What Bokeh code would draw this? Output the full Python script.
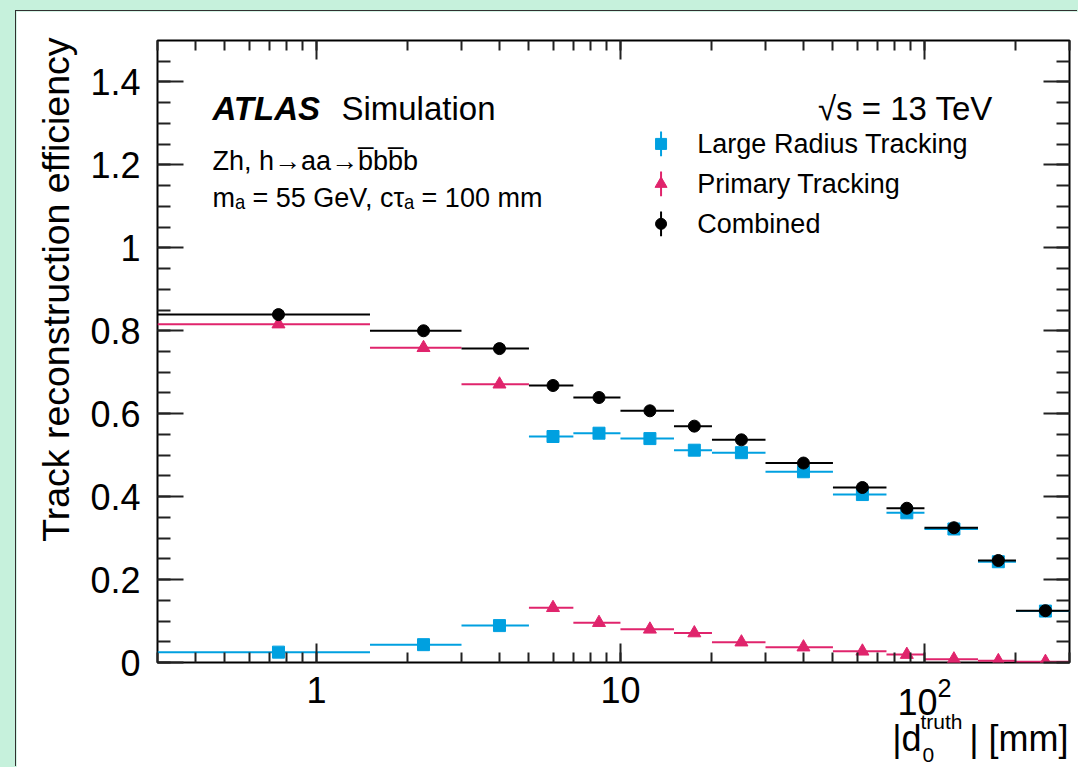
import numpy as np
from bokeh.plotting import figure
from bokeh.models import (Range1d, LogAxis, LinearAxis, LogTicker, SingleIntervalTicker,
                          LogTickFormatter, NumeralTickFormatter, Label, GridBox)
from bokeh.layouts import column
from bokeh.embed import file_html
from bokeh.resources import INLINE

# ---------------- data ----------------
bin_edges = [0, 1.5, 3, 5, 7, 10, 15, 20, 30, 50, 75, 100, 150, 200, 300]
large_radius = [0.025, 0.043, 0.089, 0.545, 0.553, 0.540, 0.512, 0.506, 0.460, 0.405, 0.361, 0.322, 0.243, 0.124]
primary = [0.816, 0.759, 0.671, 0.132, 0.096, 0.080, 0.071, 0.049, 0.037, 0.027, 0.019, 0.008, 0.004, 0.002]
combined = [0.839, 0.800, 0.757, 0.668, 0.639, 0.607, 0.570, 0.537, 0.481, 0.422, 0.372, 0.325, 0.246, 0.125]
series_names = ["Large Radius Tracking", "Primary Tracking", "Combined"]

# ---------------- style / layout constants ----------------
X_MIN, X_MAX = 0.3, 300
Y_MIN, Y_MAX = 0.0, 1.5
FONT = "Liberation Sans"
BLUE = "#00a0e0"
PINK = "#e0246c"
BLACK = "#000000"
W, H = 1062, 756

lo = np.array(bin_edges[:-1], dtype=float)
hi = np.array(bin_edges[1:], dtype=float)
centers = (lo + hi) / 2
lo_draw = np.maximum(lo, X_MIN)

p = figure(width=W, height=H, x_axis_type="log",
           x_range=Range1d(X_MIN, X_MAX), y_range=Range1d(Y_MIN, Y_MAX),
           output_backend="svg", toolbar_location=None,
           min_border_left=141, min_border_right=9, min_border_top=29, min_border_bottom=105)
p.styles = {"box-shadow": "-1px -1px 0 0 #303030"}
p.grid.visible = False
p.outline_line_color = "black"
p.outline_line_width = 2
p.background_fill_color = "white"
p.border_fill_color = "white"

bottom_ax = p.below[0]
left_ax = p.left[0]
top_ax = LogAxis(ticker=LogTicker(num_minor_ticks=10))
right_ax = LinearAxis(ticker=SingleIntervalTicker(interval=0.2, num_minor_ticks=4))
p.add_layout(top_ax, "above")
p.add_layout(right_ax, "right")

bottom_ax.ticker = LogTicker(num_minor_ticks=10)
bottom_ax.formatter = LogTickFormatter(min_exponent=2)
left_ax.ticker = SingleIntervalTicker(interval=0.2, num_minor_ticks=4)
left_ax.formatter = NumeralTickFormatter(format="0.[0]")

for ax in (bottom_ax, top_ax):
    ax.major_tick_in = 19
    ax.major_tick_out = 0
    ax.minor_tick_in = 10
    ax.minor_tick_out = 0
for ax in (left_ax, right_ax):
    ax.major_tick_in = 26
    ax.major_tick_out = 0
    ax.minor_tick_in = 13
    ax.minor_tick_out = 0
for ax in (bottom_ax, top_ax, left_ax, right_ax):
    ax.axis_line_color = None
    ax.major_tick_line_color = "#222222"
    ax.minor_tick_line_color = "#222222"
    ax.major_tick_line_width = 2
    ax.minor_tick_line_width = 2
    ax.major_label_text_font = FONT
    ax.major_label_text_font_size = "36px"
    ax.major_label_text_color = "black"
bottom_ax.major_label_standoff = 14
left_ax.major_label_standoff = 17
for ax in (top_ax, right_ax):
    ax.major_label_standoff = 0
    ax.major_label_text_font_size = "1px"
    ax.major_label_text_color = None

# ---------------- data marks ----------------
series = [(large_radius, BLUE, "square", 12),
          (primary, PINK, "triangle", 13),
          (combined, BLACK, "circle", 12)]
for vals, col, mk, sz in series:
    p.segment(x0=lo_draw, y0=vals, x1=hi, y1=vals, line_color=col, line_width=2)
    p.scatter(x=centers, y=vals, marker=mk, size=sz, fill_color=col, line_color=col)

# ---------------- legend (manual, ROOT style) ----------------
LEG_X = 13.6
LEG_TEXT_X = 17.9
LEG_Y = [1.2506, 1.1542, 1.0578]
for (vals, col, mk, sz), name, ly in zip(series, series_names, LEG_Y):
    p.segment(x0=[LEG_X], y0=[ly - 0.03], x1=[LEG_X], y1=[ly + 0.03], line_color=col, line_width=2)
    p.scatter(x=[LEG_X], y=[ly], marker=mk, size=sz - 1, fill_color=col, line_color=col)
    p.add_layout(Label(x=LEG_TEXT_X, y=ly, text=name, text_font=FONT, text_font_size="27px",
                       text_baseline="middle", text_color="black"))

# ---------------- texts inside the frame ----------------
def add_text(fig, x, y, text, size, **kw):
    kw.setdefault("text_baseline", "alphabetic")
    fig.add_layout(Label(x=x, y=y, text=text, text_font=FONT, text_font_size=size,
                         text_color="black", **kw))

add_text(p, 0.455, 1.335, "ATLAS", "33px", text_font_style="bold italic")
add_text(p, 1.208, 1.335, "Simulation", "33px")
add_text(p, 168.0, 1.335, "\u221as = 13 TeV", "33px", text_align="right")
add_text(p, 0.455, 1.2096, "Zh, h\u2192aa\u2192b\u0305bb\u0305b", "27px")
add_text(p, 0.455, 1.1205, "m\u2090 = 55 GeV, c\u03c4\u2090 = 100 mm", "27px")

# ---------------- transparent overlay for the axis titles (pixel coordinates) ----------------
ov = figure(width=W, height=H, x_range=Range1d(0, W), y_range=Range1d(0, H),
            output_backend="svg", toolbar_location=None,
            x_axis_location=None, y_axis_location=None,
            min_border_left=0, min_border_right=0, min_border_top=0, min_border_bottom=0)
ov.grid.visible = False
ov.outline_line_color = None
ov.background_fill_color = None
ov.border_fill_color = None

add_text(ov, 39, 730, "Track reconstruction efficiency", "37.5px", angle=np.pi / 2,
         text_align="right", text_baseline="middle")
add_text(ov, 1052, 29, "| [mm]", "36px", text_align="right")
add_text(ov, 946, 46, "truth", "21px", text_align="right")
add_text(ov, 906, 13, "0", "21px", text_align="left")
add_text(ov, 905, 29, "|d", "36px", text_align="right")

grid = GridBox(children=[(column(p, width=W, height=H), 0, 0),
                         (column(ov, width=W, height=H), 0, 0)])
grid.margin = (11, 0, 0, 16)
root = column(grid, width=1078, height=767, styles={"background-color": "#c6f1dc"})
open("out.html", "w").write(file_html(root, INLINE))
